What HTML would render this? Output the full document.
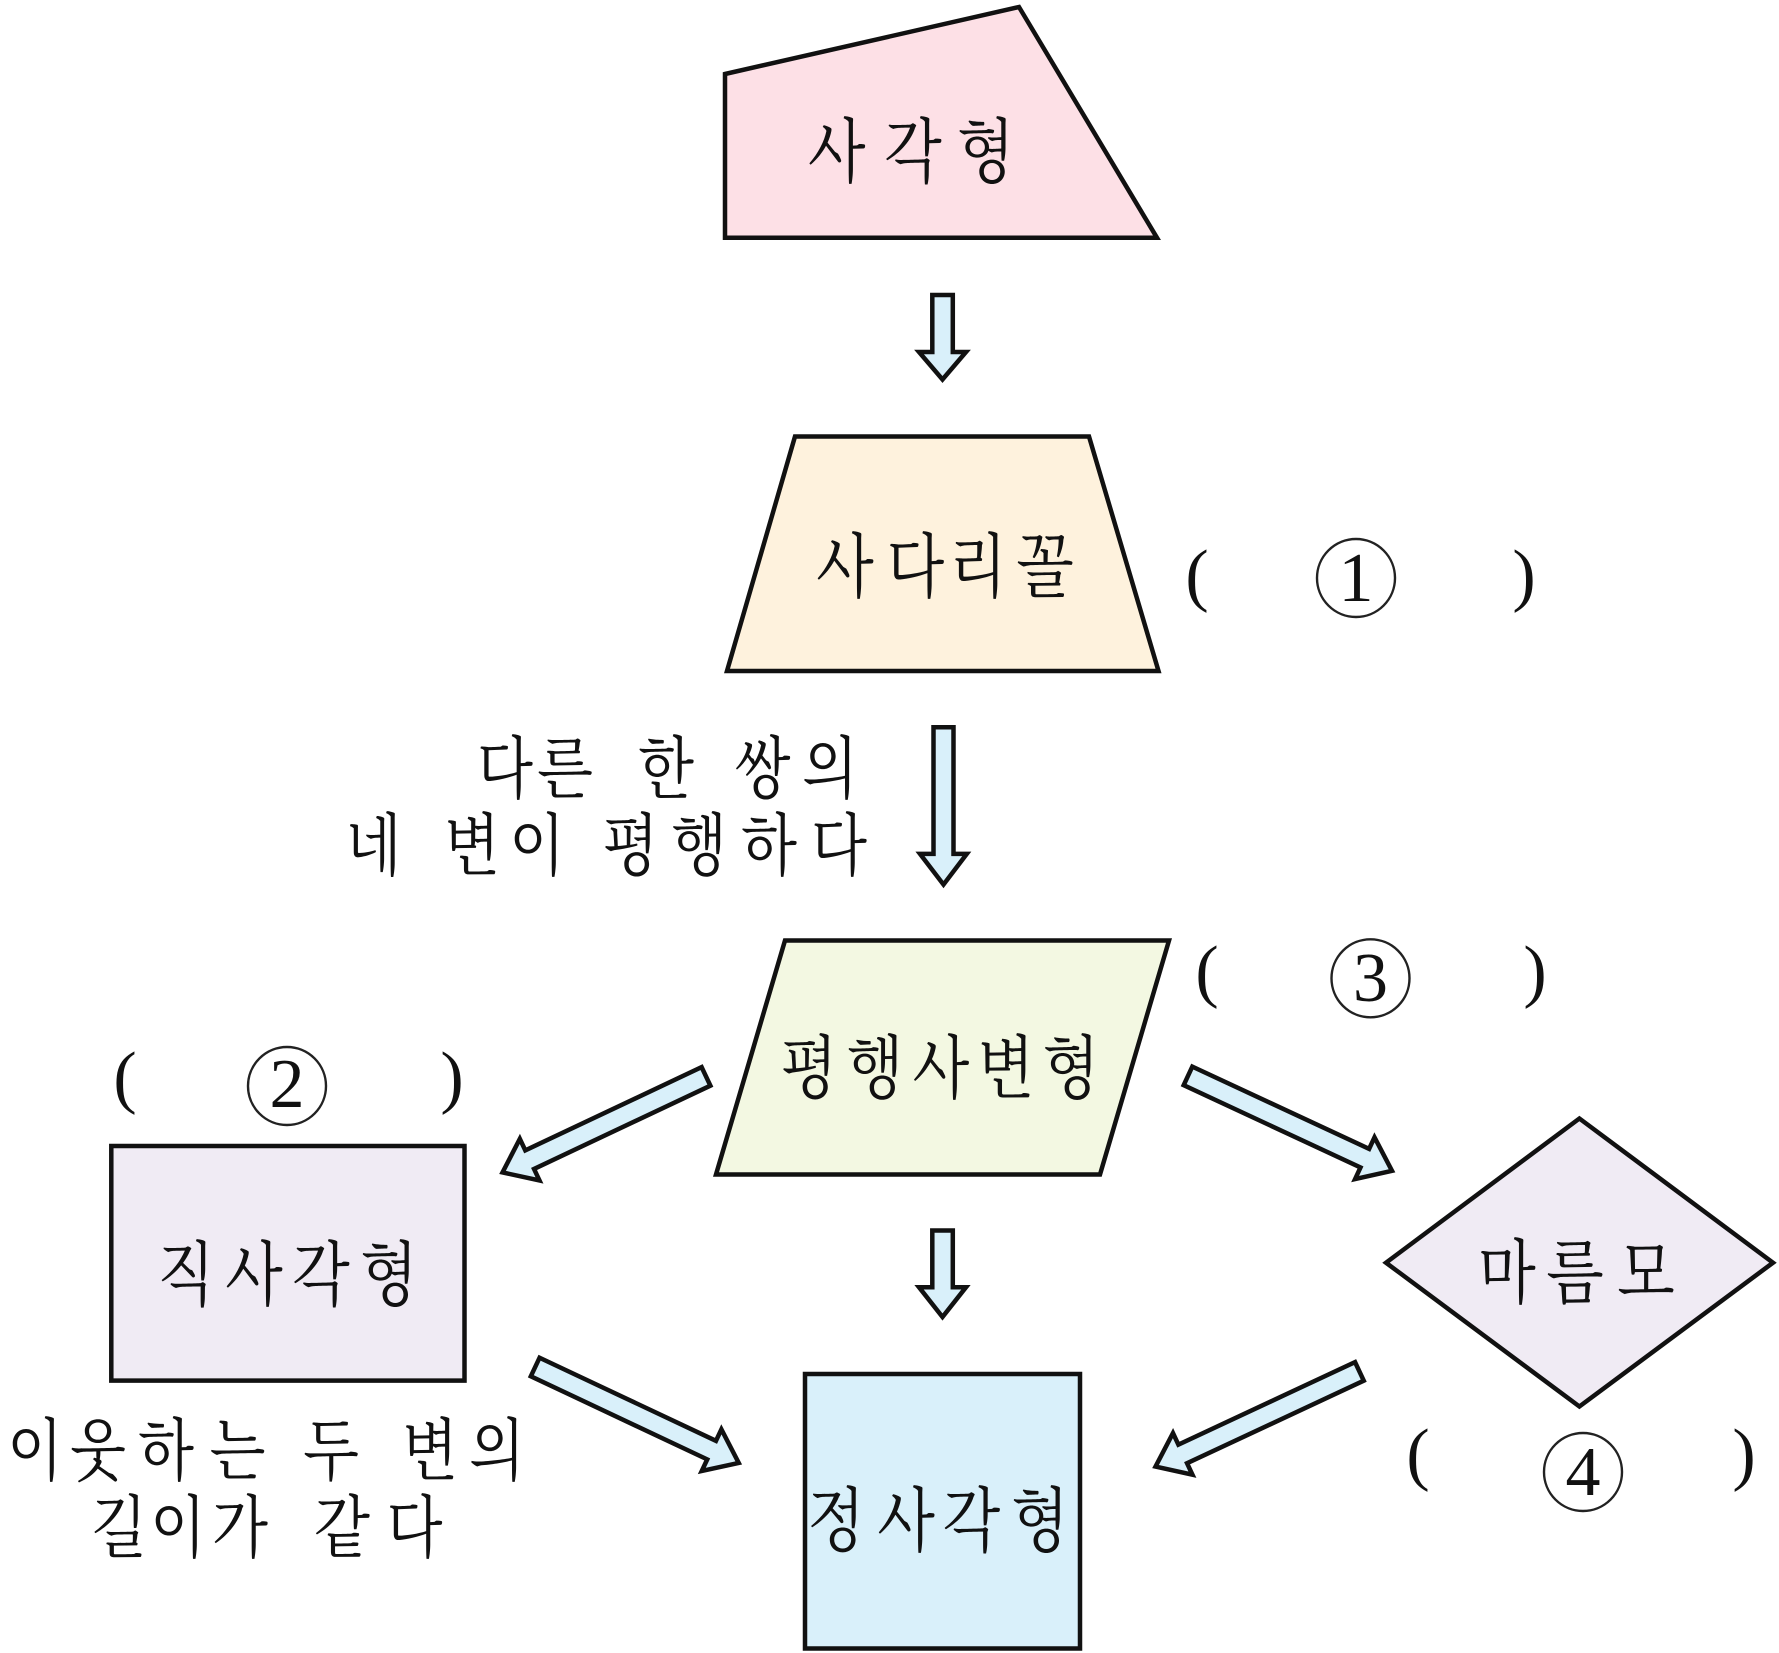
<!DOCTYPE html>
<html>
<head>
<meta charset="utf-8">
<style>
html,body{margin:0;padding:0;background:#fff;}
svg{display:block;}
.k{font-family:"Noto Serif CJK SC","Noto Serif CJK KR","Noto Sans CJK KR",serif;fill:#111;}
.p{font-family:"Liberation Serif",serif;fill:#111;}
</style>
</head>
<body>
<svg width="1779" height="1653" viewBox="0 0 1779 1653" xmlns="http://www.w3.org/2000/svg">
  <g stroke="#111" stroke-width="4.5" stroke-linejoin="miter" stroke-miterlimit="10">
    <!-- 사각형 -->
    <polygon points="725,74 1019,7 1157,237.8 725,237.8" fill="#fde0e6"/>
    <!-- 사다리꼴 -->
    <polygon points="795,436.5 1089,436.5 1158.5,671 727,671" fill="#fef2dd"/>
    <!-- 평행사변형 -->
    <polygon points="785,940.5 1169,940.5 1100,1174.5 716,1174.5" fill="#f3f8e2"/>
    <!-- 직사각형 -->
    <rect x="111.3" y="1146" width="353.2" height="234.6" fill="#f0ebf4"/>
    <!-- 정사각형 -->
    <rect x="805" y="1374" width="275" height="274.5" fill="#d9f0fa"/>
    <!-- 마름모 -->
    <polygon points="1579.4,1118.5 1773,1262.7 1579.4,1406.5 1386,1262.7" fill="#f0ebf4"/>

    <!-- vertical arrows -->
    <polygon points="932.3,295 952.8,295 952.8,352 966,352 942.5,379.5 919,352 932.3,352" fill="#d9f0fa"/>
    <polygon points="933.5,727.2 953.5,727.2 953.5,853.9 966.8,853.9 943.5,884.6 920,853.9 933.5,853.9" fill="#d9f0fa"/>
    <polygon points="932.3,1230.5 952.8,1230.5 952.8,1287.2 966,1287.2 942.5,1317 919,1287.2 932.3,1287.2" fill="#d9f0fa"/>

    <!-- diagonal arrows -->
    <polygon transform="translate(706,1076.4) rotate(154.73)" points="0,-10.25 195,-10.25 195,-23 225,0 195,23 195,10.25 0,10.25" fill="#d9f0fa"/>
    <polygon transform="translate(1188,1075.9) rotate(24.95)" points="0,-10.25 195,-10.25 195,-23 225,0 195,23 195,10.25 0,10.25" fill="#d9f0fa"/>
    <polygon transform="translate(535.2,1367) rotate(25.23)" points="0,-10.25 195,-10.25 195,-23 225,0 195,23 195,10.25 0,10.25" fill="#d9f0fa"/>
    <polygon transform="translate(1359.4,1371.4) rotate(154.97)" points="0,-10.25 195,-10.25 195,-23 225,0 195,23 195,10.25 0,10.25" fill="#d9f0fa"/>
  </g>

  <!-- labels (horizontally condensed by 0.85; x values pre-divided) -->
  <g class="k" text-anchor="middle" dominant-baseline="central" transform="scale(0.85,1)">
    <text x="984.35 1074.12 1159.65" y="146" font-size="70">사각형</text>
    <text x="994.12 1077.06 1150.59 1229.41" y="561" font-size="70">사다리꼴</text>
    <text x="951.76 1029.41 1107.06 1183.53 1260" y="1063" font-size="69">평행사변형</text>
    <text x="218.82 298.82 377.65 457.65" y="1269" font-size="70">직사각형</text>
    <text x="983.5 1066 1143 1223.5" y="1515" font-size="70">정사각형</text>
    <text x="1772.94 1852.94 1936.47" y="1267" font-size="70">마름모</text>

    <text x="594.12 664.71 723.53 783.53 840 897.06 976.47" y="764" font-size="68">다른 한 쌍의</text>
    <text x="439.41 497.65 555.29 631.76 687.06 741.76 822.35 904.71 987.06" y="841" font-size="68">네 변이 평행하다</text>
    <text x="41.18 115.29 195.29 279.41 334.12 389.41 447.06 505.88 584.71" y="1446" font-size="68">이웃하는 두 변의</text>
    <text x="140 209.41 282.35 342.35 402.35 487.65" y="1523" font-size="68">길이가 같다</text>
  </g>

  <!-- answer blanks -->
  <g fill="none" stroke="#222" stroke-width="2.4">
    <circle cx="1356" cy="578" r="39"/>
    <circle cx="287" cy="1086" r="39"/>
    <circle cx="1370.5" cy="978.3" r="39"/>
    <circle cx="1583" cy="1472" r="39"/>
  </g>
  <g class="p" text-anchor="middle" font-size="70">
    <text x="1197" y="598">(</text>
    <text x="1524" y="598">)</text>
    <text x="1356" y="601">1</text>

    <text x="125" y="1100">(</text>
    <text x="452" y="1100">)</text>
    <text x="287" y="1107">2</text>

    <text x="1207" y="994">(</text>
    <text x="1535" y="994">)</text>
    <text x="1370.5" y="1001">3</text>

    <text x="1418" y="1477">(</text>
    <text x="1744" y="1477">)</text>
    <text x="1583" y="1495">4</text>
  </g>
</svg>
</body>
</html>
